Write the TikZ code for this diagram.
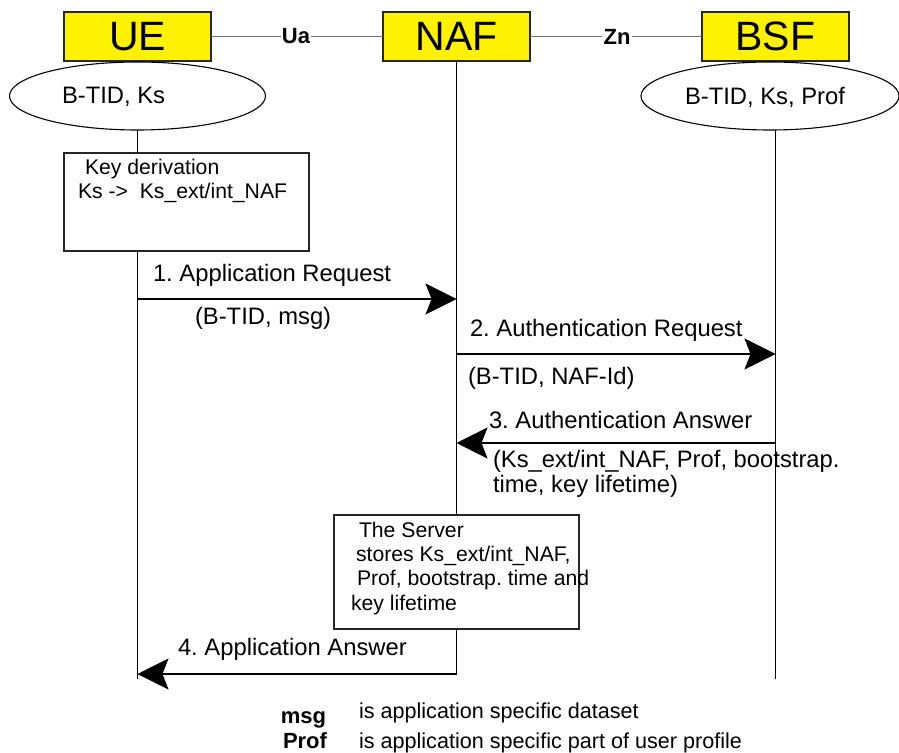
\documentclass[tikz,border=0pt]{standalone}
\usepackage{fontspec}
\setmainfont{Liberation Sans}
\frenchspacing
\usetikzlibrary{shapes.geometric}
\usetikzlibrary{arrows.meta}

\begin{document}
\begin{tikzpicture}[x=0.5pt,y=-0.5pt,inner sep=0pt,outer sep=0pt,line width=0.55pt,
entity/.style={draw=black!85,fill=yellow,rectangle,line width=0.65pt,minimum width=73.5pt,minimum height=24.5pt,font=\fontsize{20.5}{24}\selectfont},
iface/.style={fill=white,inner sep=0.6pt,font=\fontsize{11}{13}\selectfont\bfseries},
ifline/.style={draw=black!55,line width=0.5pt},
keyset/.style={draw,ellipse,minimum width=128pt,minimum height=34pt},
procbox/.style={draw=black!85,fill=white,rectangle,minimum width=122.5pt},
msgtext/.style={anchor=base west,align=left,font=\fontsize{11.9}{12.5}\selectfont},
boxtext/.style={anchor=base west,align=left,font=\fontsize{10.6}{12.1}\selectfont},
legkey/.style={anchor=base east,font=\fontsize{11}{13}\selectfont\bfseries},
legtext/.style={anchor=base west,font=\fontsize{10.8}{13}\selectfont},
msg/.style={-{Stealth[length=15.5pt,width=15.5pt,inset=3pt]}}]

\useasboundingbox (0,0) rectangle (899,753);

\draw (137.5,36.5) node[entity] (ue) {UE};
\draw (456.5,36.5) node[entity] (naf) {NAF};
\draw (775.5,36.5) node[entity] (bsf) {BSF};

\draw (296,36.5) node[iface] (ua) {Ua};
\draw (617,36.5) node[iface] (zn) {Zn};
\draw[ifline] (ue) -- (ua) -- (naf);
\draw[ifline] (naf) -- (zn) -- (bsf);

\draw (137.5,96) node[keyset] (uekeys) {};
\draw (770,96) node[keyset,minimum width=129pt] (bsfkeys) {};
\draw (62,97) node[msgtext,anchor=west] (uekeystext) {B-TID, Ks};
\draw (685,97) node[msgtext,anchor=west] (bsfkeystext) {B-TID, Ks, Prof};

\coordinate (ueend) at (137.5,679);
\coordinate (nafend) at (456.5,674);
\coordinate (bsfend) at (775.5,679);
\draw (uekeys.south) -- (ueend);
\draw (naf.south) -- (nafend);
\draw (bsf.south |- bsfkeys.south) -- (bsfend);

\draw (186.5,202) node[procbox,minimum height=49pt] (keyder) {};
\draw (78,199) node[boxtext,font=\fontsize{10.6}{12}\selectfont] (keydertext) {\hspace*{3.5pt}Key derivation\\Ks ->~ Ks\_ext/int\_NAF};

\draw (456.5,572) node[procbox,minimum height=57pt] (store) {};
\draw (351,610) node[boxtext] (storetext) {\hspace*{4pt}The Server\\\hspace*{2.5pt}stores Ks\_ext/int\_NAF,\\\hspace*{3pt}Prof, bootstrap. time and\\key lifetime};

\coordinate (ue1) at (137.5,299);
\coordinate (naf1) at (456.5,299);
\draw[msg] (ue1) -- (naf1);
\draw (153,282) node[msgtext] (m1) {1. Application Request};
\draw (195,325) node[msgtext] (m1args) {(B-TID, msg)};

\coordinate (naf2) at (456.5,354);
\coordinate (bsf2) at (775.5,354);
\draw[msg] (naf2) -- (bsf2);
\draw (470,337) node[msgtext] (m2) {2. Authentication Request};
\draw (468,385) node[msgtext] (m2args) {(B-TID, NAF-Id)};

\coordinate (bsf3) at (775.5,443);
\coordinate (naf3) at (456.5,443);
\draw[msg] (bsf3) -- (naf3);
\draw (489,429) node[msgtext] (m3) {3. Authentication Answer};
\draw (493,492) node[msgtext] (m3args) {(Ks\_ext/int\_NAF, Prof, bootstrap.\\time, key lifetime)};

\coordinate (naf4) at (456.5,674);
\coordinate (ue4) at (137.5,674);
\draw[msg] (naf4) -- (ue4);
\draw (178,655) node[msgtext] (m4) {4. Application Answer};

\draw (326,723) node[legkey] (msgkey) {msg};
\draw (359,718) node[legtext] (msgdef) {is application specific dataset};
\draw (327,748) node[legkey] (profkey) {Prof};
\draw (359,748) node[legtext] (profdef) {is application specific part of user profile};

\end{tikzpicture}
\end{document}
